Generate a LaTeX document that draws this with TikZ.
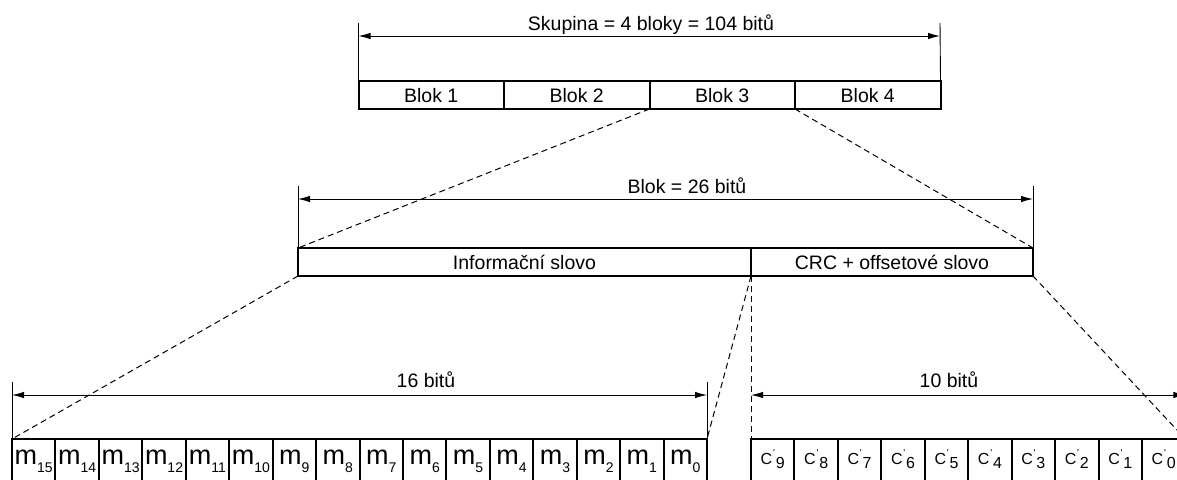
\documentclass[tikz,border=0pt]{standalone}
\usepackage{fontspec}
\setmainfont{Liberation Sans}
\usetikzlibrary{arrows.meta}
\newcommand{\mbitlabel}[1]{{\fontsize{27}{27}\selectfont m}\raisebox{-8pt}{\fontsize{14}{14}\selectfont #1}}
\newcommand{\cbitlabel}[1]{{\fontsize{16}{16}\selectfont C\kern0.8pt\raisebox{8pt}{\fontsize{10}{10}\selectfont\textquotesingle}\kern0.8pt\raisebox{-4pt}{#1}}}
\tikzset{
  blockbox/.style={draw, line width=2pt, inner sep=0pt, outer sep=0pt, minimum height=28pt,
     text height=14pt, text depth=0pt, font=\fontsize{19.5}{22}\selectfont},
  cellbox/.style={draw, line width=2pt, inner sep=0pt, outer sep=0pt, minimum width=43.4375pt,
     text height=25pt, text depth=25pt, anchor=north west},
  extline/.style={line width=0.9pt},
  dimline/.style={line width=0.9pt, {Latex[length=12pt,width=6.5pt]}-{Latex[length=12pt,width=6.5pt]}},
  projline/.style={line width=1pt, dash pattern=on 6pt off 4pt},
  dimtext/.style={anchor=base, inner sep=0pt, font=\fontsize{19.5}{22}\selectfont}
}
\begin{document}
\begin{tikzpicture}[x=1pt, y=-1pt]
\useasboundingbox (0,0) rectangle (1177,479);
\clip (0,0) rectangle (1177,479);

% top group
\node[blockbox, minimum width=145.5pt] (b1) at (431.25,95) {Blok 1};
\node[blockbox, minimum width=145.5pt] (b2) at (576.75,95) {Blok 2};
\node[blockbox, minimum width=145.5pt] (b3) at (722.25,95) {Blok 3};
\node[blockbox, minimum width=145.5pt] (b4) at (867.75,95) {Blok 4};
\coordinate (e1) at (358.5,23);
\coordinate (e2) at (940,23);
\draw[extline] (e1) -- (b1.north west);
\draw[extline] (e2) -- (b4.north east);
\coordinate (d1l) at (358.5,36);
\coordinate (d1r) at (940,36);
\draw[dimline] (d1l) -- (d1r);
\node[dimtext] (t1) at (651,30) {Skupina = 4 bloky = 104 bitů};

% middle block
\node[blockbox, minimum width=453pt] (info) at (524.5,262) {Informační slovo};
\node[blockbox, minimum width=282pt] (crc) at (892,262) {CRC + offsetové slovo};
\coordinate (e3) at (298,186);
\coordinate (e4) at (1033,186);
\draw[extline] (e3) -- (info.north west);
\draw[extline] (e4) -- (crc.north east);
\coordinate (d2l) at (298,199);
\coordinate (d2r) at (1033,199);
\draw[dimline] (d2l) -- (d2r);
\node[dimtext] (t2) at (687,193) {Blok = 26 bitů};

% bottom cells
\foreach \k in {0,...,15} {
  \node[cellbox] (m\k) at ({12+(15-\k)*43.4375},439) {\mbitlabel{\k}};
}
\foreach \k in {0,...,9} {
  \node[cellbox] (c\k) at ({751+(9-\k)*43.4375},439) {\cbitlabel{\k}};
}
\coordinate (e5) at (12,382);
\coordinate (e6) at (707,382);
\coordinate (e7) at (1185.4,382);
\draw[extline] (e5) -- (m15.north west);
\draw[extline] (e6) -- (m0.north east);
\draw[extline] (e7) -- (c0.north east);
\coordinate (d3l) at (12,395);
\coordinate (d3r) at (707,395);
\draw[dimline] (d3l) -- (d3r);
\node[dimtext] (t3) at (426,387) {16 bitů};
\coordinate (d4l) at (751,395);
\coordinate (d4r) at (1185.4,395);
\draw[dimline] (d4l) -- (d4r);
\node[dimtext] (t4) at (949,387) {10 bitů};

% projection lines
\draw[projline] (b3.south west) -- (info.north west);
\draw[projline] (b3.south east) -- (crc.north east);
\draw[projline] (info.south west) -- (m15.north west);
\draw[projline] (info.south east) -- (m0.north east);
\draw[projline] (info.south east) -- (c9.north west);
\draw[projline] (crc.south east) -- (c0.north east);
\end{tikzpicture}
\end{document}
